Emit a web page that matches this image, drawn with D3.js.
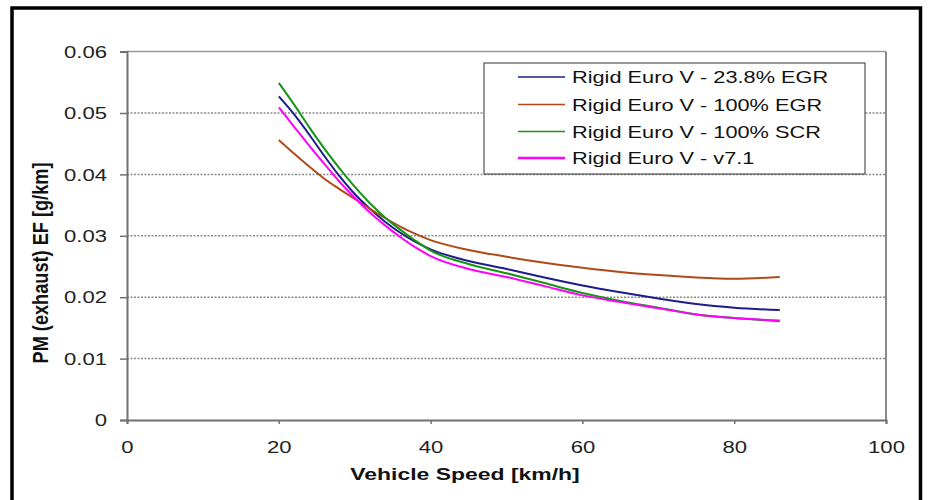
<!DOCTYPE html>
<html>
<head>
<meta charset="utf-8">
<script src="https://cdn.jsdelivr.net/npm/d3@7"></script>
<style>
html,body{margin:0;padding:0;background:#fff;}
svg{display:block;font-family:"Liberation Sans",Arial,sans-serif;}
</style>
</head>
<body>
<svg id="chart" width="928" height="500"></svg>
<script>
// ---- data ----
const speeds = [20,22,24,26,28,30,32,34,36,38,40,45,50,55,60,65,70,75,80,86];
const egr238 = [0.0527,0.0498,0.0465,0.0430,0.0397,0.0368,0.0344,0.0323,0.0305,0.0290,0.0278,0.0259,0.0246,0.0232,0.0219,0.0208,0.0198,0.0189,0.0183,0.0179];
const egr100 = [0.0456,0.0434,0.0413,0.0393,0.0376,0.0360,0.0344,0.0329,0.0315,0.0303,0.0293,0.0277,0.0266,0.0256,0.0248,0.0241,0.0236,0.0232,0.0230,0.0233];
const scr100 = [0.0549,0.0514,0.0477,0.0442,0.0410,0.0380,0.0353,0.0330,0.0310,0.0292,0.0276,0.0254,0.0239,0.0223,0.0207,0.0194,0.0183,0.0172,0.0166,0.0161];
const v71    = [0.0509,0.0478,0.0447,0.0417,0.0388,0.0362,0.0338,0.0317,0.0298,0.0281,0.0267,0.0246,0.0233,0.0218,0.0203,0.0192,0.0182,0.0172,0.0166,0.0162];
const seriesNames = ["Rigid Euro V - 23.8% EGR","Rigid Euro V - 100% EGR","Rigid Euro V - 100% SCR","Rigid Euro V - v7.1"];
const seriesColors = ["#1c1c8c","#b04a18","#149614","#ff00ff"];
const xTicks = [0,20,40,60,80,100];
const yTicks = [0,0.01,0.02,0.03,0.04,0.05,0.06];
const xTitle = "Vehicle Speed [km/h]";
const yTitle = "PM (exhaust) EF [g/km]";

const seriesValues = [egr238, egr100, scr100, v71];

(function(){
const svg = d3.select("#chart");
const pL = 127, pR = 886, pT = 51.6, pB = 420;
const sx = 1.38; // horizontal stretch of the original raster text

const x = d3.scaleLinear().domain([0,100]).range([pL,pR]);
const y = d3.scaleLinear().domain([0,0.06]).range([pB,pT]);

// outer frame
svg.append("rect").attr("x",12).attr("y",8).attr("width",908.5).attr("height",520)
  .attr("fill","none").attr("stroke","#000").attr("stroke-width",3.5);

// gridlines
svg.append("g").selectAll("line").data(yTicks.filter(d=>d>0 && d<0.06)).join("line")
  .attr("x1",pL).attr("x2",pR).attr("y1",d=>y(d)).attr("y2",d=>y(d))
  .attr("stroke","#8a8a8a").attr("stroke-width",1.5).attr("stroke-dasharray","2,1.5");

// plot border top/right
svg.append("line").attr("x1",pL).attr("x2",pR).attr("y1",pT).attr("y2",pT)
  .attr("stroke","#9a9a9a").attr("stroke-width",1.5);
svg.append("line").attr("x1",pR).attr("x2",pR).attr("y1",pT).attr("y2",pB)
  .attr("stroke","#8a8a8a").attr("stroke-width",2);

// axes
const yAxis = d3.axisLeft(y).tickValues(yTicks).tickSize(7).tickPadding(0)
  .tickFormat(d=> d===0 ? "0" : d3.format(".2f")(d));
const gy = svg.append("g").attr("transform",`translate(${pL},0)`).call(yAxis);
gy.select(".domain").attr("stroke","#707070").attr("stroke-width",2);
gy.selectAll(".tick line").attr("stroke","#707070").attr("stroke-width",1.5);
gy.selectAll(".tick text").attr("x",-14.5).attr("dy","0.36em")
  .attr("font-size",16).attr("fill","#222").attr("font-family","Liberation Sans, Arial, sans-serif")
  .attr("transform",`scale(${sx},1)`);

const xAxis = d3.axisBottom(x).tickValues(xTicks).tickSize(4).tickPadding(0)
  .tickFormat(d3.format("d"));
const gx = svg.append("g").attr("transform",`translate(0,${pB})`).call(xAxis);
gx.select(".domain").attr("stroke","#707070").attr("stroke-width",2);
gx.selectAll(".tick line").attr("stroke","#707070").attr("stroke-width",1.5);
gx.selectAll(".tick text").attr("y",33.5).attr("dy",0)
  .attr("font-size",16).attr("fill","#222").attr("font-family","Liberation Sans, Arial, sans-serif")
  .attr("transform",`scale(${sx},1)`);

// lines
const line = d3.line().x((d,i)=>x(speeds[i])).y(d=>y(d)).curve(d3.curveMonotoneX);
svg.append("g").selectAll("path").data(seriesValues).join("path")
  .attr("d",line).attr("fill","none")
  .attr("stroke",(d,i)=>seriesColors[i]).attr("stroke-width",2);

// legend
const lg = svg.append("g");
lg.append("rect").attr("x",484).attr("y",63).attr("width",381).attr("height",111)
  .attr("fill","#fff").attr("stroke","#333").attr("stroke-width",1);
const rowsY = [77,104.5,131.5,158];
seriesNames.forEach((name,i)=>{
  lg.append("line").attr("x1",518).attr("x2",565).attr("y1",rowsY[i]).attr("y2",rowsY[i])
    .attr("stroke",seriesColors[i]).attr("stroke-width",i===3?2.5:1.5);
  lg.append("text").attr("transform",`translate(572,${rowsY[i]+6}) scale(1.36,1)`)
    .attr("font-size",16).attr("fill","#111").text(name);
});

// axis titles
svg.append("text").attr("transform",`translate(465,480) scale(1.35,1)`)
  .attr("text-anchor","middle").attr("font-size",17).attr("font-weight","bold")
  .attr("fill","#111").text(xTitle);
svg.append("text").attr("transform",`translate(48,263) rotate(-90) scale(1.07,1.35)`)
  .attr("text-anchor","middle").attr("font-size",17).attr("font-weight","bold")
  .attr("fill","#111").text(yTitle);
})();
</script>
</body>
</html>
